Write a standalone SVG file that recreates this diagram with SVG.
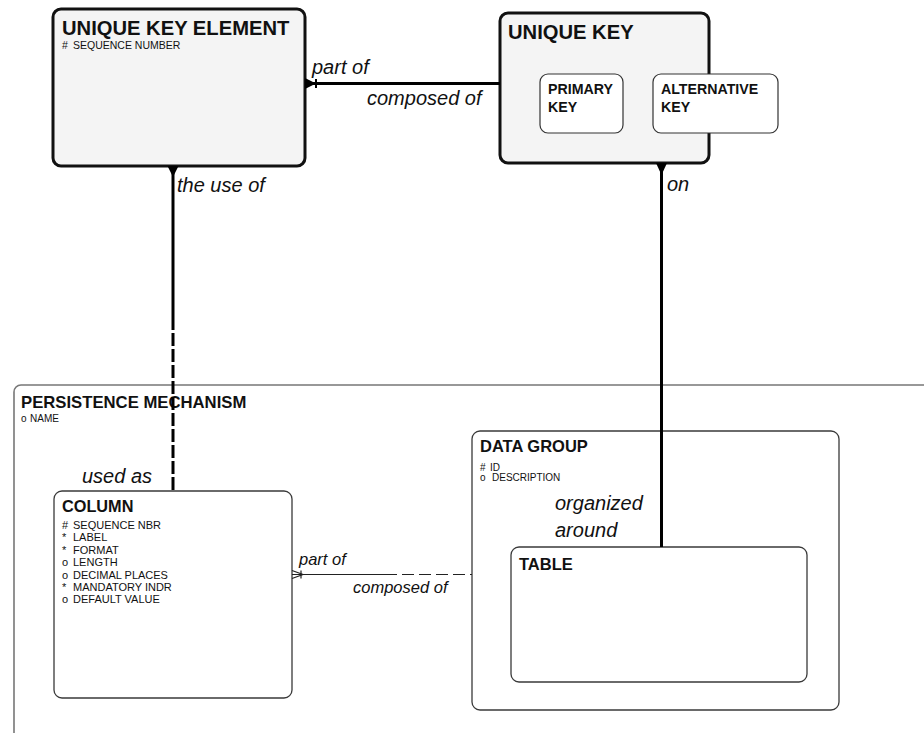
<svg xmlns="http://www.w3.org/2000/svg" width="924" height="733" viewBox="0 0 924 733">
<style>
.title{font-family:"Liberation Sans",Arial,sans-serif;font-weight:bold;fill:#111}
.attr{font-family:"Liberation Sans",Arial,sans-serif;fill:#111}
.lbl{font-family:"Liberation Sans",Arial,sans-serif;font-style:italic;fill:#111;font-size:20px}
.lbl2{font-family:"Liberation Sans",Arial,sans-serif;font-style:italic;fill:#111;font-size:16.5px}
.major{fill:#f4f4f4;stroke:#111;stroke-width:3}
.sub{fill:#fff;stroke:#333;stroke-width:1.2}
.ent{fill:#fff;stroke:#3a3a3a;stroke-width:1.3}
.super{fill:none;stroke:#777;stroke-width:1.6}
.thick{stroke:#000;stroke-width:3;fill:none}
.thin{stroke:#222;stroke-width:1.2;fill:none}
</style>
<rect width="924" height="733" fill="#fff"/>
<g id="persistence-mechanism">
<rect class="super" x="14" y="385" width="940" height="380" rx="7"/>
<text class="title" x="21" y="408" font-size="16.7">PERSISTENCE MECHANISM</text>
<text class="attr" x="21" y="422" font-size="10">o</text>
<text class="attr" x="30" y="422" font-size="10">NAME</text>
</g>
<g id="unique-key-element">
<rect class="major" x="53" y="9" width="252" height="157" rx="8"/>
<text class="title" x="62" y="35" font-size="20.2">UNIQUE KEY ELEMENT</text>
<text class="attr" x="62" y="49" font-size="10.5">#</text>
<text class="attr" x="73" y="49" font-size="10.5">SEQUENCE NUMBER</text>
</g>
<g id="unique-key">
<rect class="major" x="500" y="13" width="209" height="150" rx="8"/>
<text class="title" x="508" y="39" font-size="20.2">UNIQUE KEY</text>
</g>
<g id="primary-key">
<rect class="sub" x="540" y="74" width="83" height="59" rx="8"/>
<text class="title" x="548" y="94" font-size="14.2">PRIMARY</text>
<text class="title" x="548" y="112" font-size="14.2">KEY</text>
</g>
<g id="alternative-key">
<rect class="sub" x="653" y="74" width="125" height="59" rx="8"/>
<text class="title" x="661" y="94" font-size="14.2">ALTERNATIVE</text>
<text class="title" x="661" y="112" font-size="14.2">KEY</text>
</g>
<g id="column">
<rect class="ent" x="54" y="491" width="238" height="207" rx="8"/>
<text class="title" x="62" y="512" font-size="16.3">COLUMN</text>
<g class="attr" font-size="11">
<text x="62" y="529">#</text><text x="73" y="529">SEQUENCE NBR</text>
<text x="62" y="541">*</text><text x="73" y="541">LABEL</text>
<text x="62" y="554">*</text><text x="73" y="554">FORMAT</text>
<text x="62" y="566">o</text><text x="73" y="566">LENGTH</text>
<text x="62" y="579">o</text><text x="73" y="579">DECIMAL PLACES</text>
<text x="62" y="591">*</text><text x="73" y="591">MANDATORY INDR</text>
<text x="62" y="603">o</text><text x="73" y="603">DEFAULT VALUE</text>
</g>
</g>
<g id="data-group">
<rect class="ent" x="472" y="431" width="367" height="279" rx="8"/>
<text class="title" x="480" y="452" font-size="16.5">DATA GROUP</text>
<text class="attr" x="480" y="471" font-size="10">#</text>
<text class="attr" x="490" y="471" font-size="10">ID</text>
<text class="attr" x="480" y="481" font-size="10">o</text>
<text class="attr" x="492" y="481" font-size="10">DESCRIPTION</text>
</g>
<g id="table">
<rect class="ent" x="511" y="547" width="296" height="135" rx="8"/>
<text class="title" x="519" y="570" font-size="16.5">TABLE</text>
</g>
<g id="connectors">
<line class="thick" x1="305" y1="83.5" x2="500" y2="83.5"/>
<polygon points="305,78 316,83.5 305,89" fill="#000"/>
<line x1="316" y1="79" x2="316" y2="88" stroke="#000" stroke-width="2"/>
<text class="lbl" x="312" y="74">part of</text>
<text class="lbl" x="367" y="105">composed of</text>

<line class="thick" x1="173" y1="166" x2="173" y2="330"/>
<line class="thick" x1="173" y1="330" x2="173" y2="491" stroke-dasharray="13 3" stroke-dashoffset="-3"/>
<polygon points="167.5,166 178.5,166 173,177" fill="#000"/>
<text class="lbl" x="177" y="192">the use of</text>
<text class="lbl" x="82" y="483">used as</text>

<line class="thick" x1="661.5" y1="163" x2="661.5" y2="547"/>
<polygon points="656,163 667,163 661.5,175" fill="#000"/>
<text class="lbl" x="667" y="191">on</text>
<text class="lbl" x="555" y="510">organized</text>
<text class="lbl" x="555" y="537">around</text>

<line class="thin" x1="292" y1="574.5" x2="385" y2="574.5"/>
<line class="thin" x1="385" y1="574.5" x2="472" y2="574.5" stroke-dasharray="12 5"/>
<path class="thin" d="M292,570.5 L303,574.5 L292,578.5"/>
<line class="thin" x1="301" y1="570.5" x2="301" y2="578.5"/>
<text class="lbl2" x="299" y="565">part of</text>
<text class="lbl2" x="353" y="593">composed of</text>
</g>
</svg>
